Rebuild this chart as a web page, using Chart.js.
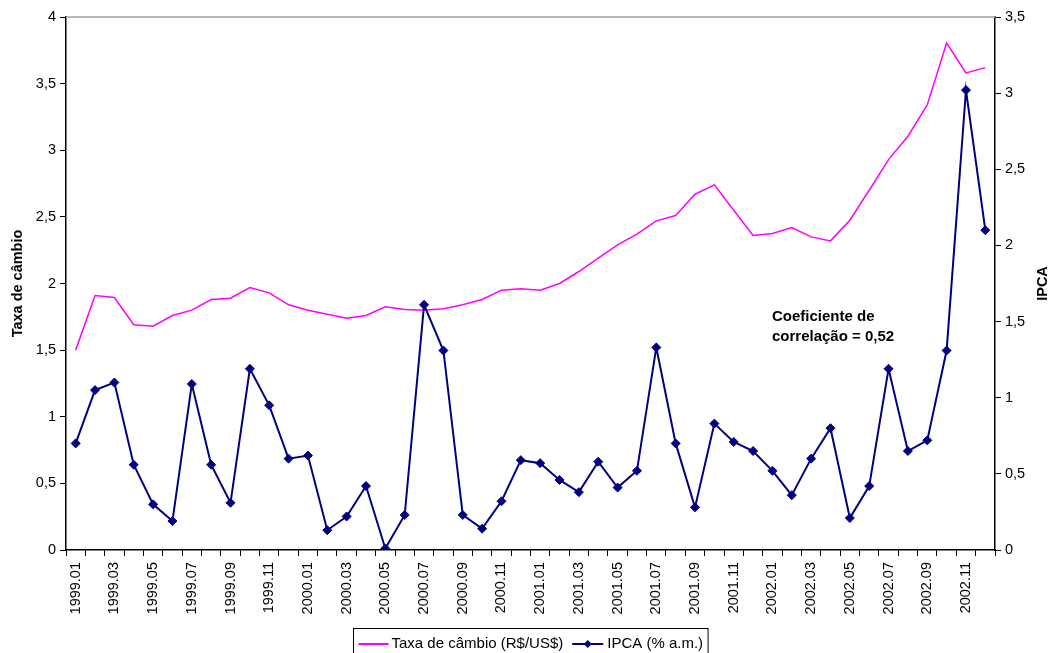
<!DOCTYPE html>
<html>
<head>
<meta charset="utf-8">
<script src="https://cdn.jsdelivr.net/npm/chart.js@4/dist/chart.umd.min.js"></script>
<style>
html,body{margin:0;padding:0;background:#fff;}
#wrap{width:1050px;height:653px;position:relative;}
</style>
</head>
<body>
<div id="wrap"><canvas id="c" width="1050" height="653"></canvas></div>
<script>
const categories = ['1999.01','1999.02','1999.03','1999.04','1999.05','1999.06','1999.07','1999.08','1999.09','1999.10','1999.11','1999.12',
  '2000.01','2000.02','2000.03','2000.04','2000.05','2000.06','2000.07','2000.08','2000.09','2000.10','2000.11','2000.12',
  '2001.01','2001.02','2001.03','2001.04','2001.05','2001.06','2001.07','2001.08','2001.09','2001.10','2001.11','2001.12',
  '2002.01','2002.02','2002.03','2002.04','2002.05','2002.06','2002.07','2002.08','2002.09','2002.10','2002.11','2002.12'];
const taxaCambio = [1.50,1.91,1.895,1.69,1.68,1.76,1.80,1.88,1.89,1.97,1.93,1.84,
  1.80,1.77,1.74,1.76,1.825,1.805,1.80,1.81,1.84,1.88,1.95,1.96,
  1.95,2.00,2.09,2.19,2.29,2.37,2.47,2.51,2.67,2.74,2.55,2.36,
  2.375,2.42,2.35,2.32,2.475,2.70,2.93,3.105,3.34,3.805,3.58,3.62];
const ipca = [0.70,1.05,1.10,0.56,0.30,0.19,1.09,0.56,0.31,1.19,0.95,0.60,
  0.62,0.13,0.22,0.42,0.01,0.23,1.61,1.31,0.23,0.14,0.32,0.59,
  0.57,0.46,0.38,0.58,0.41,0.52,1.33,0.70,0.28,0.83,0.71,0.65,
  0.52,0.36,0.60,0.80,0.21,0.42,1.19,0.65,0.72,1.31,3.02,2.10];
const leftTicks = {min:0, max:4, step:0.5};
const rightTicks = {min:0, max:3.5, step:0.5};
const seriesNames = ['Taxa de câmbio (R$/US$)', 'IPCA (% a.m.)'];
const leftTitle = 'Taxa de câmbio';
const rightTitle = 'IPCA';
const noteLines = ['Coeficiente de', 'correlação = 0,52'];

const FONT = 'Liberation Sans, Arial, sans-serif';
const PINK = '#FF00FF';
const NAVY = '#000080';
const fmt = v => String(Math.round(v*10)/10).replace('.', ',');

const extras = {
  id: 'extras',
  beforeDatasetsDraw(chart) {
    const {ctx, chartArea:a} = chart;
    ctx.save();
    ctx.strokeStyle = '#a0a0a0';
    ctx.lineWidth = 1.5;
    ctx.beginPath();
    ctx.moveTo(a.left, a.top);
    ctx.lineTo(a.right, a.top);
    ctx.stroke();
    ctx.restore();
  },
  afterDraw(chart) {
    const {ctx, chartArea:a} = chart;
    const cy = (a.top + a.bottom) / 2;
    ctx.save();
    ctx.fillStyle = '#000';
    ctx.font = 'bold 14.5px ' + FONT;
    ctx.textAlign = 'center';
    ctx.textBaseline = 'middle';
    ctx.save(); ctx.translate(18, cy); ctx.rotate(-Math.PI/2); ctx.fillText(leftTitle, 0, 0); ctx.restore();
    ctx.save(); ctx.translate(1043, cy); ctx.rotate(-Math.PI/2); ctx.fillText(rightTitle, 0, 0); ctx.restore();
    ctx.font = 'bold 15px ' + FONT;
    ctx.textAlign = 'left';
    ctx.fillText(noteLines[0], 772, 317);
    ctx.fillText(noteLines[1], 772, 337);
    ctx.font = '15px ' + FONT;
    const w1 = ctx.measureText(seriesNames[0]).width;
    const w2 = ctx.measureText(seriesNames[1]).width;
    const total = 5 + 30 + 3 + w1 + 9 + 31 + 4 + w2 + 5;
    const x0 = Math.round((a.left + a.right)/2 - total/2) + 0.5;
    const ly = 644;
    ctx.strokeStyle = '#000'; ctx.lineWidth = 1;
    ctx.strokeRect(x0, 628.5, total, 32);
    let x = x0 + 5;
    ctx.strokeStyle = PINK; ctx.lineWidth = 2;
    ctx.beginPath(); ctx.moveTo(x, ly); ctx.lineTo(x+30, ly); ctx.stroke();
    x += 33;
    ctx.fillStyle = '#000';
    ctx.fillText(seriesNames[0], x, ly);
    x += w1 + 9;
    ctx.strokeStyle = NAVY; ctx.lineWidth = 2;
    ctx.beginPath(); ctx.moveTo(x, ly); ctx.lineTo(x+31, ly); ctx.stroke();
    const dx = x + 15.5;
    ctx.fillStyle = NAVY;
    ctx.beginPath(); ctx.moveTo(dx-4, ly); ctx.lineTo(dx, ly-4); ctx.lineTo(dx+4, ly); ctx.lineTo(dx, ly+4); ctx.closePath(); ctx.fill();
    x += 35;
    ctx.fillStyle = '#000';
    ctx.fillText(seriesNames[1], x, ly);
    ctx.restore();
  }
};

new Chart(document.getElementById('c'), {
  type: 'line',
  data: {
    labels: categories,
    datasets: [
      {label: seriesNames[0], data: taxaCambio, yAxisID: 'y', borderColor: PINK, backgroundColor: PINK,
       borderWidth: 1.5, pointRadius: 0, tension: 0, order: 2},
      {label: seriesNames[1], data: ipca, yAxisID: 'y1', borderColor: NAVY, backgroundColor: NAVY,
       borderWidth: 2, pointStyle: 'rectRot', pointRadius: 4.5, pointBackgroundColor: NAVY, pointBorderColor: NAVY,
       pointBorderWidth: 1, tension: 0, order: 1}
    ]
  },
  options: {
    responsive: false,
    animation: false,
    devicePixelRatio: 1,
    layout: {padding: {top: 17, left: 0, right: 0, bottom: 0}},
    plugins: {legend: {display: false}, tooltip: {enabled: false}},
    scales: {
      x: {
        type: 'category', offset: true,
        grid: {display: true, drawOnChartArea: false, offset: true, tickLength: 6, color: '#000', lineWidth: 1},
        border: {color: '#000', width: 1.5},
        ticks: {autoSkip: false, maxRotation: 90, minRotation: 90, padding: 6, color: '#000',
          font: {family: FONT, size: 14.5},
          callback: (v, i) => (i % 2 === 0 ? categories[i] : '')},
        afterFit: s => { s.height = 103; }
      },
      y: {
        position: 'left', min: leftTicks.min, max: leftTicks.max,
        grid: {drawOnChartArea: false, tickLength: 6, color: '#000', lineWidth: 1},
        border: {color: '#000', width: 1.5},
        ticks: {stepSize: leftTicks.step, padding: 4, color: '#000', font: {family: FONT, size: 14.5}, callback: v => fmt(v)},
        afterFit: s => { s.width = 66; }
      },
      y1: {
        position: 'right', min: rightTicks.min, max: rightTicks.max,
        grid: {drawOnChartArea: false, tickLength: 6, color: '#000', lineWidth: 1},
        border: {color: '#000', width: 1.5},
        ticks: {stepSize: rightTicks.step, padding: 4, color: '#000', font: {family: FONT, size: 14.5}, callback: v => fmt(v)},
        afterFit: s => { s.width = 55; }
      }
    }
  },
  plugins: [extras]
});
</script>
</body>
</html>
